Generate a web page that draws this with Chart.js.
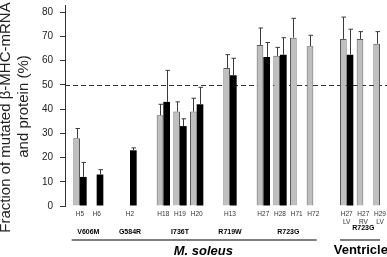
<!DOCTYPE html>
<html>
<head>
<meta charset="utf-8">
<script src="https://cdn.jsdelivr.net/npm/chart.js@4/dist/chart.umd.min.js"></script>
<style>
body { margin: 0; background: #fff; }
#wrap { width: 387px; height: 257px; position: relative; }
</style>
</head>
<body>
<div id="wrap"><canvas id="chart"></canvas></div>
<script>
// sample slots along the x axis, '' = empty gap
const samples = [['H5'], ['H6'], [''], ['H2'], [''], ['H18'], ['H19'], ['H20'], [''], ['H13'], [''],
    ['H27'], ['H28'], ['H71'], ['H72'], [''], ['H27', 'LV'], ['H27', 'RV'], ['H29', 'LV']]

// mutated mRNA (grey) and protein (black), % with upper error
const mrna       = [28, null, null, null, null, 37.5, 39, 39, null, 57, null, 66.5, 62, 69.5, 66, null, 69, 69, 67]
const mrnaErr    = [4, null, null, null, null, 4.5, 4, 5.5, null, 5.5, null, 7, 3.5, 8, 4.5, null, 9, 3, 5]
const protein    = [12, 13, null, 23, null, 43, 33, 42, null, 54, null, 61.5, 62.5, null, null, null, 62.5, null, null]
const proteinErr = [6, 2, null, 1, null, 13, 3, 7, null, 7, null, 6, 7, null, null, null, 10.5, null, null]

const mutations = ['V606M', 'G584R', 'I736T', 'R719W', 'R723G', 'R723G']
const mutationSlots = [[0, 1], [3, 3], [5, 7], [9, 9], [11, 14], [16, 18]]
const tissues = ['M. soleus', 'Ventricle']
const tissueSlots = [[0, 14], [16, 18]]
const yTitle = ['Fraction of mutated β-MHC-mRNA', 'and protein (%)']

const yMin = 0
const yMax = 83
const yStep = 5
const halfLine = 50

const font = '"Liberation Sans", Arial, sans-serif'

function points(values, errs){
    let pts = []
    for (let i = 0; i < values.length; i++){
        if (values[i] !== null){
            pts.push({x: i, y: values[i], err: errs[i]})
        }
    }
    return pts
}

const dashedLine = {
    id: 'dashedLine',
    beforeDatasetsDraw(chart){
        const {ctx, chartArea, scales: {y}} = chart
        const py = Math.round(y.getPixelForValue(halfLine)) + 0.5
        ctx.save()
        ctx.strokeStyle = '#333'
        ctx.lineWidth = 1
        ctx.setLineDash([5, 3])
        ctx.beginPath()
        ctx.moveTo(chartArea.left, py)
        ctx.lineTo(chartArea.right, py)
        ctx.stroke()
        ctx.restore()
    }
}

const errorBars = {
    id: 'errorBars',
    afterDatasetsDraw(chart){
        const {ctx, scales: {y}} = chart
        ctx.save()
        ctx.strokeStyle = '#3a3a3a'
        ctx.lineWidth = 1
        chart.data.datasets.forEach((ds, d) => {
            const meta = chart.getDatasetMeta(d)
            meta.data.forEach((bar, j) => {
                const pt = ds.data[j]
                if (!pt.err) return
                const px = Math.round(bar.x) + 0.5
                const top = y.getPixelForValue(pt.y + pt.err)
                ctx.beginPath()
                ctx.moveTo(px, bar.y)
                ctx.lineTo(px, top)
                ctx.moveTo(px - 2, top)
                ctx.lineTo(px + 2.5, top)
                ctx.stroke()
            })
        })
        ctx.restore()
    }
}

const groupLabels = {
    id: 'groupLabels',
    afterDraw(chart){
        const {ctx, scales: {x, y}} = chart
        ctx.save()
        ctx.fillStyle = '#000'
        ctx.strokeStyle = '#000'
        ctx.textAlign = 'center'
        ctx.textBaseline = 'middle'
        ctx.font = 'bold 7px ' + font
        mutations.forEach((m, i) => {
            const [a, b] = mutationSlots[i]
            const ty = a >= 16 ? 228 : 232
            ctx.fillText(m, x.getPixelForValue((a + b) / 2), ty)
        })
        // underlines
        ctx.lineWidth = 1.2
        ctx.beginPath()
        ctx.moveTo(x.getPixelForValue(tissueSlots[0][0] - 0.5), 240)
        ctx.lineTo(x.getPixelForValue(tissueSlots[0][1] + 0.2), 240)
        ctx.moveTo(x.getPixelForValue(tissueSlots[1][0] - 0.4), 240)
        ctx.lineTo(x.getPixelForValue(tissueSlots[1][1]), 240)
        ctx.stroke()

        ctx.font = 'italic bold 13px ' + font
        ctx.fillText(tissues[0], x.getPixelForValue(7.4), 251)
        ctx.font = 'bold 13px ' + font
        ctx.fillText(tissues[1], x.getPixelForValue(16.85), 250)

        // y axis title, two rotated lines
        ctx.fillStyle = '#222'
        ctx.font = '15px ' + font
        ctx.save()
        ctx.translate(6, y.getPixelForValue(yMax / 2) + 12)
        ctx.rotate(-Math.PI / 2)
        ctx.fillText(yTitle[0], 0, 0)
        ctx.restore()
        ctx.save()
        ctx.translate(23.5, y.getPixelForValue(yMax / 2) + 1)
        ctx.rotate(-Math.PI / 2)
        ctx.fillText(yTitle[1], 0, 0)
        ctx.restore()
        ctx.restore()
    }
}

let ctx = document.getElementById('chart').getContext('2d')
window.chart = new Chart(ctx, {
    type: 'bar',
    data: {
        datasets: [
            {
                label: 'mRNA',
                data: points(mrna, mrnaErr),
                backgroundColor: '#bfbfbf',
                borderColor: '#5a5a5a',
                borderWidth: 1,
                categoryPercentage: 0.8,
                barPercentage: 1
            },
            {
                label: 'protein',
                data: points(protein, proteinErr),
                backgroundColor: '#000',
                borderWidth: 0,
                categoryPercentage: 0.8,
                barPercentage: 1
            }
        ]
    },
    options: {
        responsive: true,
        maintainAspectRatio: false,
        animation: false,
        layout: {
            padding: {top: 5, left: 0, right: 0, bottom: 0}
        },
        plugins: {
            legend: {display: false},
            tooltip: {enabled: false}
        },
        scales: {
            x: {
                type: 'linear',
                offset: false,
                min: -0.9,
                max: 18.42,
                afterBuildTicks: (s) => {
                    s.ticks = samples.map((l, i) => ({value: i}))
                },
                afterFit: (s) => {
                    s.height = 51
                    s.paddingLeft = 0
                    s.paddingRight = 0
                },
                grid: {display: false, drawTicks: false},
                border: {display: false},
                ticks: {
                    autoSkip: false,
                    maxRotation: 0,
                    padding: 5,
                    color: '#333',
                    font: {family: font, size: 6.5, lineHeight: 1.1},
                    callback: (v) => samples[v]
                }
            },
            y: {
                min: yMin,
                max: yMax,
                afterFit: (s) => {
                    s.width = 65
                    s.paddingTop = 0
                    s.paddingBottom = 0
                },
                border: {display: true, color: '#333', width: 1},
                grid: {drawOnChartArea: false, drawTicks: true, tickLength: 5, color: '#333'},
                ticks: {
                    stepSize: yStep,
                    includeBounds: false,
                    padding: 7,
                    color: '#222',
                    font: {family: font, size: 10},
                    callback: (v) => v % 10 === 0 ? v : ''
                }
            }
        }
    },
    plugins: [dashedLine, errorBars, groupLabels]
})
</script>
</body>
</html>
